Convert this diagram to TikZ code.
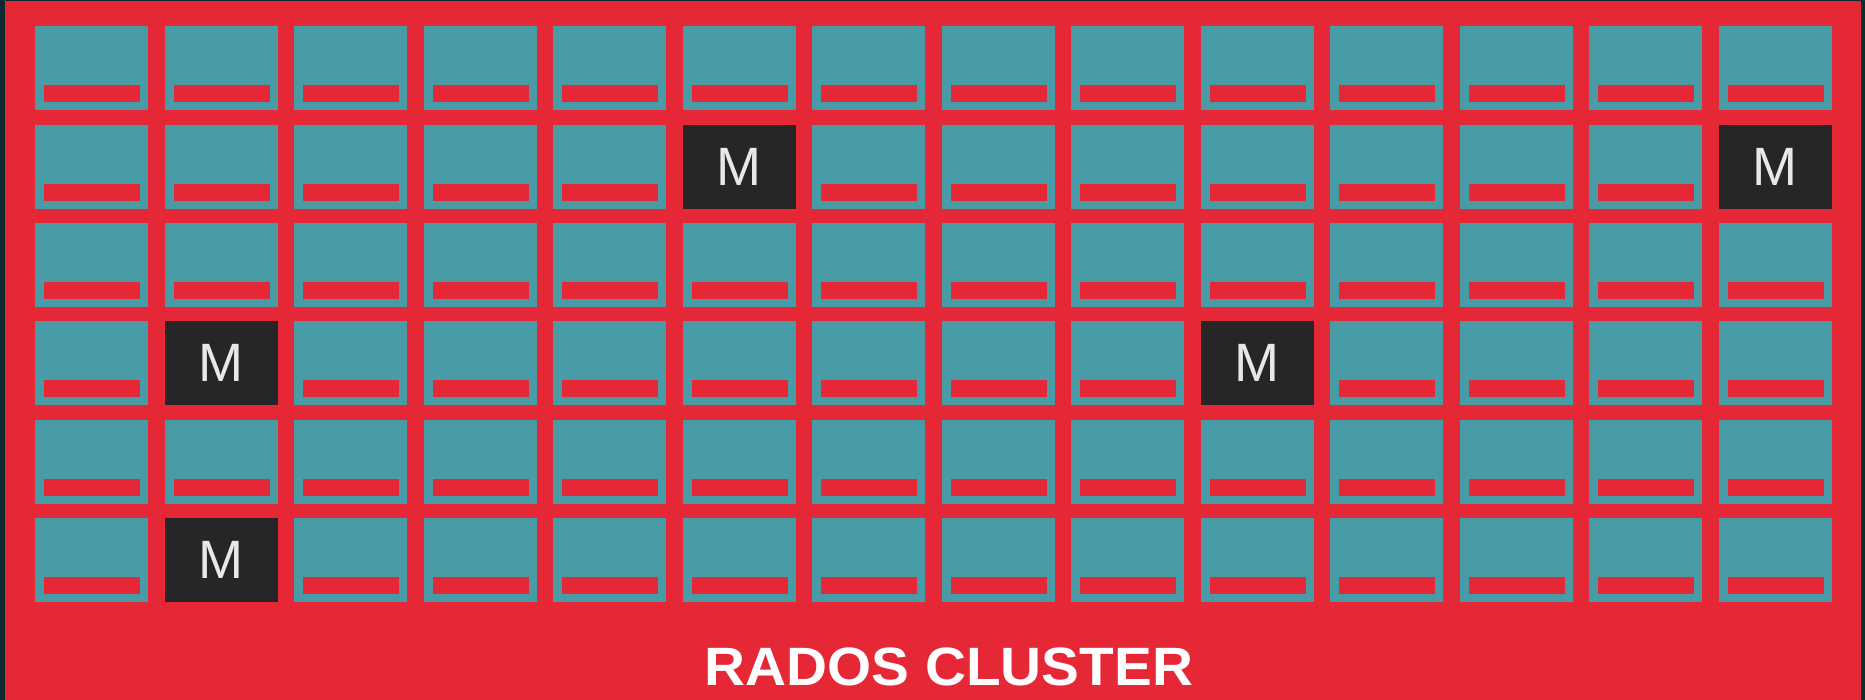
\documentclass[tikz,border=0pt]{standalone}
\usepackage{fontspec}
\setmainfont{Liberation Sans}
\definecolor{frame}{HTML}{0C2A32}
\definecolor{cred}{HTML}{E62836}
\definecolor{cteal}{HTML}{489BA7}
\definecolor{cdark}{HTML}{262626}
\definecolor{mtext}{HTML}{E8E8E8}
\tikzset{
  osdbox/.style={fill=cteal, draw=none, minimum width=113pt, minimum height=84pt, inner sep=0pt, anchor=north west},
  osdbar/.style={fill=cred, draw=none, minimum width=96pt, minimum height=17pt, inner sep=0pt, anchor=north west},
  monbox/.style={fill=cdark, draw=none, minimum width=113pt, minimum height=84pt, inner sep=0pt, anchor=north west, text=mtext, font=\fontsize{54}{54}\selectfont},
  title/.style={text=white, font=\bfseries\fontsize{54}{54}\selectfont, inner sep=0pt, anchor=base, xscale=1.05}
}
\begin{document}
\begin{tikzpicture}[x=1pt,y=-1pt]
\useasboundingbox (0,0) rectangle (1865,700);
\fill[frame] (0,0) rectangle (1865,700);
\fill[cred] (5,1) rectangle (1861,700);
\foreach \r in {0,...,5}{
  \foreach \c in {0,...,13}{
    \pgfmathsetmacro{\xx}{35+129.5*\c}
    \pgfmathsetmacro{\yy}{26+98.4*\r}
    \def\ismon{0}
    \ifnum\r=1 \ifnum\c=5 \def\ismon{1}\fi \ifnum\c=13 \def\ismon{1}\fi \fi
    \ifnum\r=3 \ifnum\c=1 \def\ismon{1}\fi \ifnum\c=9 \def\ismon{1}\fi \fi
    \ifnum\r=5 \ifnum\c=1 \def\ismon{1}\fi \fi
    \if1\ismon
      \node[monbox] (box-\r-\c) at (\xx,\yy) {M};
    \else
      \node[osdbox] (box-\r-\c) at (\xx,\yy) {};
      \node[osdbar] (bar-\r-\c) at ([xshift=9pt,yshift=-59pt]box-\r-\c.north west) {};
    \fi
  }
}
\node[title] (title) at (949,685) {RADOS CLUSTER};
\end{tikzpicture}
\end{document}
